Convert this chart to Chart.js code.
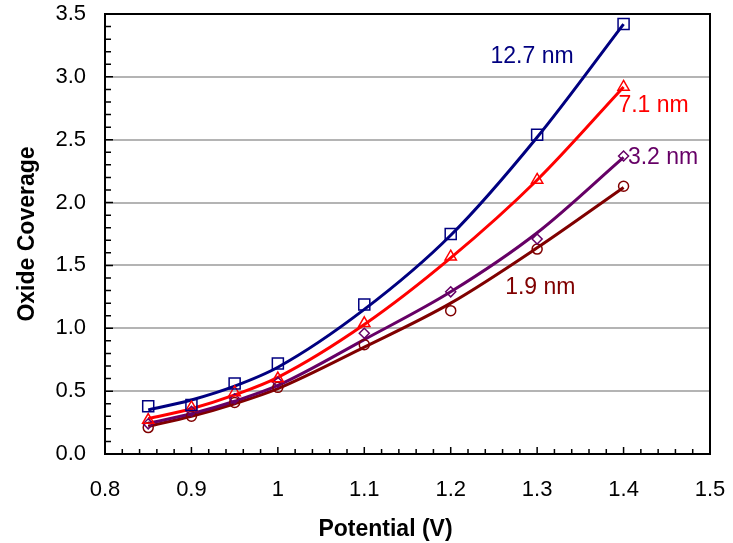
<!DOCTYPE html>
<html>
<head>
<meta charset="utf-8">
<script src="https://cdn.jsdelivr.net/npm/chart.js@4.4.0/dist/chart.umd.min.js"></script>
<style>
body { margin: 0; background: #fff; }
</style>
</head>
<body>
<canvas id="chart" width="733" height="543"></canvas>
<script>
// measured points
var potential = [0.85, 0.9, 0.95, 1.0, 1.1, 1.2, 1.3, 1.4];
var pts127 = [0.38, 0.39, 0.56, 0.72, 1.19, 1.75, 2.54, 3.42];
var pts71  = [0.27, 0.37, 0.49, 0.60, 1.04, 1.57, 2.18, 2.92];
var pts32  = [0.24, 0.34, 0.44, 0.57, 0.96, 1.29, 1.71, 2.37];
var pts19  = [0.21, 0.30, 0.41, 0.53, 0.87, 1.14, 1.63, 2.13];

// fit curves
var fit127 = [0.35, 0.43, 0.54, 0.69, 1.15, 1.74, 2.52, 3.42];
var fit71  = [0.28, 0.36, 0.47, 0.61, 1.03, 1.56, 2.18, 2.92];
var fit32  = [0.245, 0.32, 0.42, 0.545, 0.91, 1.29, 1.76, 2.36];
var fit19  = [0.22, 0.30, 0.40, 0.52, 0.85, 1.20, 1.64, 2.12];

var seriesNames = ['12.7 nm', '7.1 nm', '3.2 nm', '1.9 nm'];
var labelX = [1.246, 1.394, 1.405, 1.263];
var labelY = [3.16, 2.77, 2.36, 1.32];

var xTickVals = [0.8, 0.9, 1.0, 1.1, 1.2, 1.3, 1.4, 1.5];
var xTickLabels = ['0.8', '0.9', '1', '1.1', '1.2', '1.3', '1.4', '1.5'];
var yTickVals = [0, 0.5, 1.0, 1.5, 2.0, 2.5, 3.0, 3.5];
var yTickLabels = ['0.0', '0.5', '1.0', '1.5', '2.0', '2.5', '3.0', '3.5'];
var xTitle = 'Potential (V)';
var yTitle = 'Oxide Coverage';

var colors = ['#000080', '#ff0000', '#660066', '#800000'];
var shapes = ['rect', 'triangle', 'rectRot', 'circle'];
var sizes = [7.8, 6.5, 5, 5];
var FONT = '"Liberation Sans", Arial, sans-serif';

function xy(ys) {
  return potential.map(function(x, i) { return {x: x, y: ys[i]}; });
}

var allPts = [pts127, pts71, pts32, pts19];
var allFits = [fit127, fit71, fit32, fit19];
var datasets = [];
for (var i = 0; i < 4; i++) {
  datasets.push({
    label: seriesNames[i],
    data: xy(allPts[i]),
    showLine: false,
    pointStyle: shapes[i],
    pointRadius: sizes[i],
    pointBorderWidth: 1.5,
    pointBorderColor: colors[i],
    pointBackgroundColor: 'rgba(0,0,0,0)',
    order: 0
  });
  datasets.push({
    label: seriesNames[i] + ' fit',
    data: xy(allFits[i]),
    showLine: true,
    borderColor: colors[i],
    borderWidth: 3,
    pointRadius: 0,
    cubicInterpolationMode: 'monotone',
    fill: false,
    order: 1
  });
}

function noPad(s) {
  s.paddingTop = 0; s.paddingBottom = 0; s.paddingLeft = 0; s.paddingRight = 0;
}

var frame = {
  id: 'frame',
  afterDraw: function(chart) {
    var ctx = chart.ctx, a = chart.chartArea;
    var xs = chart.scales.x, ys = chart.scales.y;
    ctx.save();
    ctx.strokeStyle = '#000';
    ctx.lineWidth = 1.5;
    ctx.beginPath();
    for (var k = 0; k <= 35; k++) {
      var v = 0.8 + k * 0.02;
      var px = xs.getPixelForValue(v);
      var len = (k % 5 === 0) ? 7 : 5;
      ctx.moveTo(px, a.bottom);
      ctx.lineTo(px, a.bottom - len);
    }
    for (var m = 0; m <= 35; m++) {
      var py = ys.getPixelForValue(m * 0.1);
      var l2 = (m % 5 === 0) ? 8 : 6;
      ctx.moveTo(a.left, py);
      ctx.lineTo(a.left + l2, py);
    }
    ctx.stroke();
    ctx.lineWidth = 2;
    ctx.strokeRect(a.left, a.top, a.right - a.left, a.bottom - a.top);

    // x axis title, sits a bit left of the plot centre in the original
    ctx.fillStyle = '#000';
    ctx.font = 'bold 23px ' + FONT;
    ctx.textAlign = 'center';
    ctx.textBaseline = 'middle';
    ctx.fillText(xTitle, (a.left + a.right) / 2 - 22, 530);

    ctx.font = '23px ' + FONT;
    ctx.textAlign = 'left';
    for (var j = 0; j < seriesNames.length; j++) {
      ctx.fillStyle = colors[j];
      ctx.fillText(seriesNames[j], xs.getPixelForValue(labelX[j]), ys.getPixelForValue(labelY[j]));
    }
    ctx.restore();
  }
};

new Chart(document.getElementById('chart').getContext('2d'), {
  type: 'scatter',
  data: { datasets: datasets },
  options: {
    responsive: false,
    animation: false,
    devicePixelRatio: 1,
    layout: { padding: { left: 0, right: 23, top: 14, bottom: 0 } },
    plugins: {
      legend: { display: false },
      tooltip: { enabled: false }
    },
    scales: {
      x: {
        type: 'linear',
        min: 0.8,
        max: 1.5,
        afterBuildTicks: function(s) { s.ticks = xTickVals.map(function(v) { return {value: v}; }); },
        afterFit: function(s) { s.height = 89; noPad(s); },
        grid: { display: false, drawTicks: false },
        border: { display: false },
        ticks: {
          padding: 23,
          color: '#000',
          font: { family: FONT, size: 22 },
          maxRotation: 0,
          callback: function(v, idx) { return xTickLabels[idx]; }
        },
        title: { display: false }
      },
      y: {
        type: 'linear',
        min: 0,
        max: 3.5,
        afterBuildTicks: function(s) { s.ticks = yTickVals.map(function(v) { return {value: v}; }); },
        afterFit: function(s) { s.width = 105; noPad(s); },
        grid: { color: '#b4b4b4', lineWidth: 2, drawTicks: false },
        border: { display: false },
        ticks: {
          padding: 19,
          color: '#000',
          font: { family: FONT, size: 22 },
          callback: function(v, idx) { return yTickLabels[idx]; }
        },
        title: {
          display: true,
          text: yTitle,
          color: '#000',
          font: { family: FONT, size: 23, weight: 'bold', lineHeight: 1 },
          padding: { top: 16, bottom: 0 }
        }
      }
    }
  },
  plugins: [frame]
});
</script>
</body>
</html>
